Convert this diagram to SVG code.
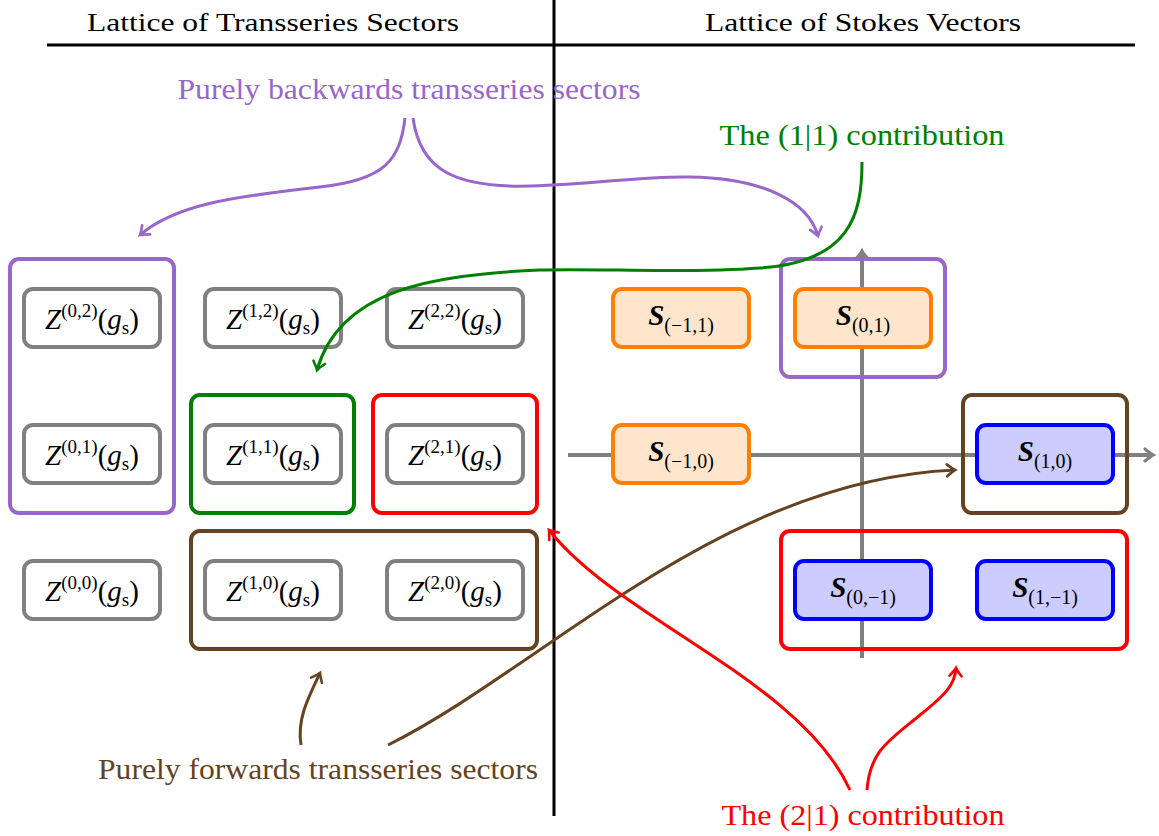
<svg xmlns="http://www.w3.org/2000/svg" width="1159" height="836" viewBox="0 0 1159 836">
<defs>
<style>
text{font-family:"Liberation Serif","DejaVu Serif",serif;}
.zb{fill:#fff;stroke:#808080;stroke-width:4;}
.ob{fill:#ffe5cc;stroke:#ff8000;stroke-width:4;}
.bb{fill:#ccccff;stroke:#0000ff;stroke-width:4;}
.grp{fill:none;stroke-width:4;}
.zt{font-size:29px;fill:#000;}
.st{font-size:29px;fill:#000;}
.lbl{font-size:30px;}
.hd{font-size:26px;fill:#000;}
.arr{fill:none;stroke-width:3;}
</style>
<marker id="mP" viewBox="-10 -8 14 16" refX="0" refY="0" markerWidth="14" markerHeight="16" markerUnits="userSpaceOnUse" orient="auto"><path d="M-8,-6 Q-2,-1 0,0 Q-2,1 -8,6" fill="none" stroke="#9966cc" stroke-width="2.6" stroke-linecap="round"/></marker>
<marker id="mG" viewBox="-10 -8 14 16" refX="0" refY="0" markerWidth="14" markerHeight="16" markerUnits="userSpaceOnUse" orient="auto"><path d="M-8,-6 Q-2,-1 0,0 Q-2,1 -8,6" fill="none" stroke="#008000" stroke-width="2.6" stroke-linecap="round"/></marker>
<marker id="mB" viewBox="-10 -8 14 16" refX="0" refY="0" markerWidth="14" markerHeight="16" markerUnits="userSpaceOnUse" orient="auto"><path d="M-8,-6 Q-2,-1 0,0 Q-2,1 -8,6" fill="none" stroke="#654321" stroke-width="2.6" stroke-linecap="round"/></marker>
<marker id="mR" viewBox="-10 -8 14 16" refX="0" refY="0" markerWidth="14" markerHeight="16" markerUnits="userSpaceOnUse" orient="auto"><path d="M-8,-6 Q-2,-1 0,0 Q-2,1 -8,6" fill="none" stroke="#ff0000" stroke-width="2.6" stroke-linecap="round"/></marker>
<marker id="mA" viewBox="-10 -8 14 16" refX="0" refY="0" markerWidth="14" markerHeight="16" markerUnits="userSpaceOnUse" orient="auto"><path d="M-8,-6 Q-2,-1 0,0 Q-2,1 -8,6" fill="none" stroke="#808080" stroke-width="3.2" stroke-linecap="round"/></marker>
</defs>
<rect width="1159" height="836" fill="#fff"/>

<g id="header">
<line x1="47" y1="45" x2="1135" y2="45" stroke="#000" stroke-width="3"/>
<line x1="554" y1="0" x2="554" y2="816" stroke="#000" stroke-width="3"/>
<text class="hd" x="273" y="31" text-anchor="middle" textLength="372" lengthAdjust="spacingAndGlyphs">Lattice of Transseries Sectors</text>
<text class="hd" x="863" y="31" text-anchor="middle" textLength="316" lengthAdjust="spacingAndGlyphs">Lattice of Stokes Vectors</text>
</g>

<g id="axes">
<line x1="568" y1="455" x2="1153" y2="455" stroke="#808080" stroke-width="4" marker-end="url(#mA)"/>
<line x1="862" y1="658" x2="862" y2="251" stroke="#808080" stroke-width="4" marker-end="url(#mA)"/>
</g>

<g id="groups">
<rect id="grp-purple-left" class="grp" x="10" y="259" width="164" height="254" rx="9" stroke="#9966cc"/>
<rect id="grp-green" class="grp" x="191" y="395" width="163" height="118" rx="9" stroke="#008000"/>
<rect id="grp-red-left" class="grp" x="373" y="395" width="164" height="118" rx="9" stroke="#ff0000"/>
<rect id="grp-brown-left" class="grp" x="191" y="531" width="346" height="118" rx="9" stroke="#654321"/>
<rect id="grp-purple-right" class="grp" x="781" y="259" width="164" height="118" rx="9" stroke="#9966cc"/>
<rect id="grp-brown-right" class="grp" x="963" y="395" width="164" height="118" rx="9" stroke="#654321"/>
<rect id="grp-red-right" class="grp" x="781" y="531" width="346" height="118" rx="9" stroke="#ff0000"/>
</g>

<g id="z02"><rect class="zb" x="24" y="289" width="136" height="58" rx="9"/><text class="zt" x="92" y="329" text-anchor="middle"><tspan font-style="italic">Z</tspan><tspan font-size="19" dy="-12">(0,2)</tspan><tspan dy="12">(</tspan><tspan font-style="italic">g</tspan><tspan font-size="19" dy="5">s</tspan><tspan dy="-5">)</tspan></text></g>
<g id="z12"><rect class="zb" x="205" y="289" width="136" height="58" rx="9"/><text class="zt" x="273" y="329" text-anchor="middle"><tspan font-style="italic">Z</tspan><tspan font-size="19" dy="-12">(1,2)</tspan><tspan dy="12">(</tspan><tspan font-style="italic">g</tspan><tspan font-size="19" dy="5">s</tspan><tspan dy="-5">)</tspan></text></g>
<g id="z22"><rect class="zb" x="387" y="289" width="136" height="58" rx="9"/><text class="zt" x="455" y="329" text-anchor="middle"><tspan font-style="italic">Z</tspan><tspan font-size="19" dy="-12">(2,2)</tspan><tspan dy="12">(</tspan><tspan font-style="italic">g</tspan><tspan font-size="19" dy="5">s</tspan><tspan dy="-5">)</tspan></text></g>
<g id="z01"><rect class="zb" x="24" y="425" width="136" height="58" rx="9"/><text class="zt" x="92" y="465" text-anchor="middle"><tspan font-style="italic">Z</tspan><tspan font-size="19" dy="-12">(0,1)</tspan><tspan dy="12">(</tspan><tspan font-style="italic">g</tspan><tspan font-size="19" dy="5">s</tspan><tspan dy="-5">)</tspan></text></g>
<g id="z11"><rect class="zb" x="205" y="425" width="136" height="58" rx="9"/><text class="zt" x="273" y="465" text-anchor="middle"><tspan font-style="italic">Z</tspan><tspan font-size="19" dy="-12">(1,1)</tspan><tspan dy="12">(</tspan><tspan font-style="italic">g</tspan><tspan font-size="19" dy="5">s</tspan><tspan dy="-5">)</tspan></text></g>
<g id="z21"><rect class="zb" x="387" y="425" width="136" height="58" rx="9"/><text class="zt" x="455" y="465" text-anchor="middle"><tspan font-style="italic">Z</tspan><tspan font-size="19" dy="-12">(2,1)</tspan><tspan dy="12">(</tspan><tspan font-style="italic">g</tspan><tspan font-size="19" dy="5">s</tspan><tspan dy="-5">)</tspan></text></g>
<g id="z00"><rect class="zb" x="24" y="561" width="136" height="58" rx="9"/><text class="zt" x="92" y="601" text-anchor="middle"><tspan font-style="italic">Z</tspan><tspan font-size="19" dy="-12">(0,0)</tspan><tspan dy="12">(</tspan><tspan font-style="italic">g</tspan><tspan font-size="19" dy="5">s</tspan><tspan dy="-5">)</tspan></text></g>
<g id="z10"><rect class="zb" x="205" y="561" width="136" height="58" rx="9"/><text class="zt" x="273" y="601" text-anchor="middle"><tspan font-style="italic">Z</tspan><tspan font-size="19" dy="-12">(1,0)</tspan><tspan dy="12">(</tspan><tspan font-style="italic">g</tspan><tspan font-size="19" dy="5">s</tspan><tspan dy="-5">)</tspan></text></g>
<g id="z20"><rect class="zb" x="387" y="561" width="136" height="58" rx="9"/><text class="zt" x="455" y="601" text-anchor="middle"><tspan font-style="italic">Z</tspan><tspan font-size="19" dy="-12">(2,0)</tspan><tspan dy="12">(</tspan><tspan font-style="italic">g</tspan><tspan font-size="19" dy="5">s</tspan><tspan dy="-5">)</tspan></text></g>

<g id="s-11"><rect class="ob" x="613" y="289" width="136" height="58" rx="9"/><text class="st" x="681" y="325" text-anchor="middle"><tspan font-style="italic" font-weight="bold">S</tspan><tspan font-size="20" dy="7">(−1,1)</tspan></text></g>
<g id="s01"><rect class="ob" x="795" y="289" width="136" height="58" rx="9"/><text class="st" x="863" y="325" text-anchor="middle"><tspan font-style="italic" font-weight="bold">S</tspan><tspan font-size="20" dy="7">(0,1)</tspan></text></g>
<g id="s-10"><rect class="ob" x="613" y="425" width="136" height="58" rx="9"/><text class="st" x="681" y="461" text-anchor="middle"><tspan font-style="italic" font-weight="bold">S</tspan><tspan font-size="20" dy="7">(−1,0)</tspan></text></g>
<g id="s10"><rect class="bb" x="977" y="425" width="136" height="58" rx="9"/><text class="st" x="1045" y="461" text-anchor="middle"><tspan font-style="italic" font-weight="bold">S</tspan><tspan font-size="20" dy="7">(1,0)</tspan></text></g>
<g id="s0-1"><rect class="bb" x="795" y="561" width="136" height="58" rx="9"/><text class="st" x="863" y="597" text-anchor="middle"><tspan font-style="italic" font-weight="bold">S</tspan><tspan font-size="20" dy="7">(0,−1)</tspan></text></g>
<g id="s1-1"><rect class="bb" x="977" y="561" width="136" height="58" rx="9"/><text class="st" x="1045" y="597" text-anchor="middle"><tspan font-style="italic" font-weight="bold">S</tspan><tspan font-size="20" dy="7">(1,−1)</tspan></text></g>

<g id="labels">
<text class="lbl" x="409" y="99" text-anchor="middle" fill="#9966cc" textLength="463" lengthAdjust="spacingAndGlyphs">Purely backwards transseries sectors</text>
<text class="lbl" x="862" y="145" text-anchor="middle" fill="#008000" textLength="285" lengthAdjust="spacingAndGlyphs">The (1|1) contribution</text>
<text class="lbl" x="318" y="779" text-anchor="middle" fill="#654321" textLength="440" lengthAdjust="spacingAndGlyphs">Purely forwards transseries sectors</text>
<text class="lbl" x="863" y="825" text-anchor="middle" fill="#ff0000" textLength="283" lengthAdjust="spacingAndGlyphs">The (2|1) contribution</text>
</g>

<g id="connectors">
<path class="arr" stroke="#9966cc" marker-end="url(#mP)" d="M405,118 C400,160 385,180 320,187 C230,197 175,205 140,235"/>
<path class="arr" stroke="#9966cc" marker-end="url(#mP)" d="M413,118 C420,170 455,188 530,186 C600,184 640,176 690,177 C760,178 808,200 818,236"/>
<path class="arr" stroke="#008000" marker-end="url(#mG)" d="M862,162 C862,215 850,262 760,268 C680,274 600,268 540,270 C430,275 340,290 317,370"/>
<path class="arr" stroke="#654321" marker-end="url(#mB)" d="M301,745 C297,720 307,700 320,673"/>
<path class="arr" stroke="#654321" marker-end="url(#mB)" d="M388,745 C540,670 720,480 955,470"/>
<path class="arr" stroke="#ff0000" marker-end="url(#mR)" d="M850,790 C800,680 620,620 549,530"/>
<path class="arr" stroke="#ff0000" marker-end="url(#mR)" d="M867,790 C870,750 890,740 920,715 C945,695 955,685 956,668"/>
</g>
</svg>
